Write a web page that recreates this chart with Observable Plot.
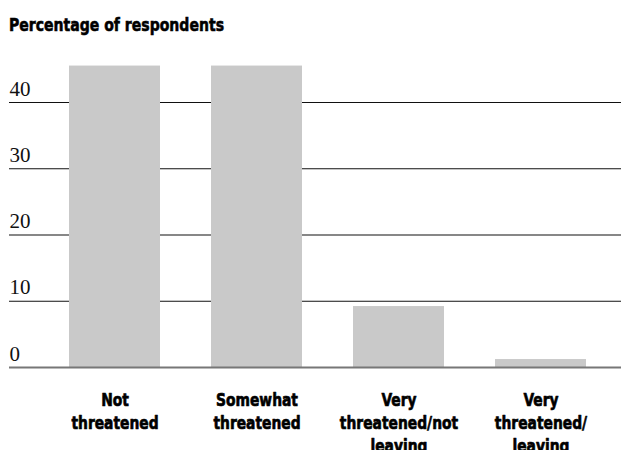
<!DOCTYPE html>
<html>
<head>
<meta charset="utf-8">
<script src="https://cdn.jsdelivr.net/npm/d3@7"></script>
<script src="https://cdn.jsdelivr.net/npm/@observablehq/plot@0.6"></script>
<style>
  html, body { margin: 0; padding: 0; background: #fff; }
  #title {
    height: 48px; box-sizing: border-box; padding: 16px 0 0 9px;
    font-family: "DejaVu Sans", sans-serif;
    font-weight: bold; font-size: 18px; line-height: 18px; color: #000;
    white-space: nowrap; -webkit-text-stroke: 0.6px #000;
  }
  #title span { display: inline-block; transform: scaleX(0.78); transform-origin: left center; }
  #chart svg { display: block; }
</style>
</head>
<body>
<div id="title"><span>Percentage of respondents</span></div>
<div id="chart"></div>
<script>
// Share of respondents by perceived job threat
const categories = [
  "Not\nthreatened",
  "Somewhat\nthreatened",
  "Very\nthreatened/not\nleaving",
  "Very\nthreatened/\nleaving"
];
const percentages = [45.5, 45.5, 9.2, 1.2];
const yTicks = [10, 20, 30, 40];

const data = categories.map((c, i) => ({category: c, value: percentages[i]}));

const sans = "'DejaVu Sans', sans-serif";
const serif = "'Liberation Serif', 'DejaVu Serif', serif";

const chart = Plot.plot({
  width: 621,
  height: 402,
  marginLeft: 9,
  marginRight: 0,
  marginTop: 1,
  marginBottom: 83,
  x: {domain: categories, range: [42, 612], paddingInner: 0.36, paddingOuter: 0.18, axis: null},
  y: {domain: [0, 48], axis: null},
  marks: [
    // horizontal gridlines, drawn under the bars
    Plot.ruleY(yTicks, {stroke: "#111", strokeWidth: 1.2}),
    // y tick labels sit just above each gridline
    Plot.text([0, ...yTicks], {
      y: d => d, text: d => String(d), frameAnchor: "left", textAnchor: "start",
      lineAnchor: "bottom", dy: -7, fontSize: 21, fontFamily: serif, fill: "#111"
    }),
    Plot.barY(data, {x: "category", y: "value", fill: "#c9c9c9"}),
    // baseline
    Plot.ruleY([0], {stroke: "#777", strokeWidth: 2}),
    // category labels
    Plot.text(data, {
      x: "category", y: 0, text: "category", lineAnchor: "top", dy: 22,
      lineHeight: 1.28, fontSize: 18, fontWeight: "bold", fontFamily: sans,
      fill: "#000", stroke: "#000", strokeWidth: 0.7, className: "cat-labels"
    })
  ]
});

// narrow the bold category labels horizontally around their anchor
chart.querySelectorAll("g.cat-labels text").forEach(el => {
  const t = el.getAttribute("transform") || "";
  const x = el.getAttribute("x"), y = el.getAttribute("y");
  const shift = (x || y) ? ` translate(${x || 0},${y || 0})` : "";
  if (x) el.removeAttribute("x");
  if (y) el.removeAttribute("y");
  el.setAttribute("transform", `${t}${shift} scale(0.77,1)`);
});

document.getElementById("chart").append(chart);
</script>
</body>
</html>
